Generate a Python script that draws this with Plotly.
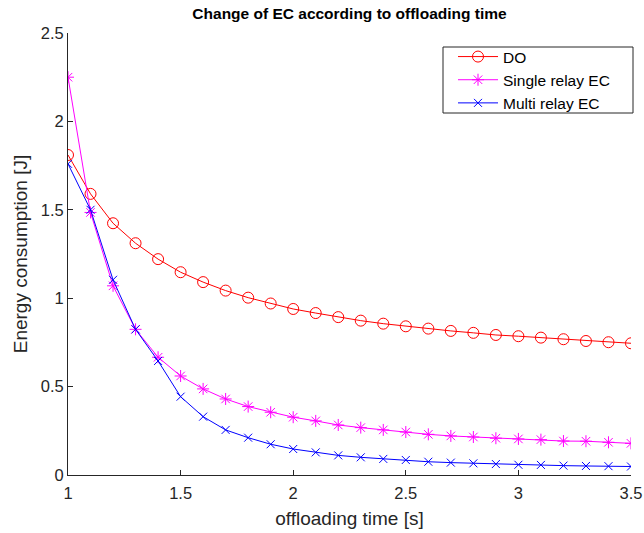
import plotly.graph_objects as go

# offloading time [s]
offload_time = [1.0, 1.1, 1.2, 1.3, 1.4, 1.5, 1.6, 1.7, 1.8, 1.9, 2.0, 2.1, 2.2,
                2.3, 2.4, 2.5, 2.6, 2.7, 2.8, 2.9, 3.0, 3.1, 3.2, 3.3, 3.4, 3.5]

# energy consumption [J]
ec_do = [1.81, 1.59, 1.424, 1.311, 1.221, 1.147, 1.091, 1.043, 1.003, 0.970,
         0.939, 0.916, 0.893, 0.873, 0.856, 0.841, 0.828, 0.815, 0.804, 0.792,
         0.785, 0.777, 0.768, 0.758, 0.751, 0.745]
ec_single = [2.25, 1.485, 1.07, 0.824, 0.666, 0.560, 0.487, 0.430, 0.387, 0.355,
             0.327, 0.306, 0.283, 0.268, 0.255, 0.243, 0.230, 0.221, 0.215, 0.208,
             0.204, 0.200, 0.192, 0.191, 0.185, 0.179]
ec_multi = [1.76, 1.50, 1.104, 0.824, 0.645, 0.443, 0.330, 0.255, 0.211, 0.174,
            0.147, 0.128, 0.111, 0.100, 0.091, 0.085, 0.075, 0.070, 0.066, 0.062,
            0.058, 0.057, 0.053, 0.051, 0.050, 0.048]

x_ticks = [1, 1.5, 2, 2.5, 3, 3.5]
x_tick_labels = ["1", "1.5", "2", "2.5", "3", "3.5"]
y_ticks = [0, 0.5, 1, 1.5, 2, 2.5]
y_tick_labels = ["0", "0.5", "1", "1.5", "2", "2.5"]

FONT = "Liberation Sans, Arial, Helvetica, sans-serif"
AXIS_COLOR = "#262626"

# plot-area geometry in pixels, used to place the legend frame
W, H = 644, 533
ML, MR, MT, MB = 68, 13, 33, 58
PW, PH = W - ML - MR, H - MT - MB


def px_x(px):
    return (px - ML) / PW


def px_y(py):
    return (H - MB - py) / PH


fig = go.Figure()

fig.add_trace(go.Scatter(
    x=offload_time, y=ec_do, name="DO", mode="lines+markers",
    line=dict(color="#ff0000", width=1),
    marker=dict(symbol="circle-open", size=11, color="#ff0000", line=dict(width=1)),
))
fig.add_trace(go.Scatter(
    x=offload_time, y=ec_single, name="Single relay EC", mode="lines+markers",
    line=dict(color="#ff00ff", width=1),
    marker=dict(symbol="asterisk-open", size=10, color="#ff00ff", line=dict(width=1, color="#ff00ff")),
))
fig.add_trace(go.Scatter(
    x=offload_time, y=ec_multi, name="Multi relay EC", mode="lines+markers",
    line=dict(color="#0000ff", width=1),
    marker=dict(symbol="x-thin-open", size=8, color="#0000ff", line=dict(width=1, color="#0000ff")),
))

# legend frame
fig.add_shape(
    type="rect", xref="paper", yref="paper",
    x0=px_x(443), x1=px_x(633), y0=px_y(113), y1=px_y(47),
    line=dict(color=AXIS_COLOR, width=1), fillcolor="white", layer="above",
)

fig.update_layout(
    width=W, height=H,
    margin=dict(l=ML, r=MR, t=MT, b=MB),
    paper_bgcolor="white", plot_bgcolor="white",
    font=dict(family=FONT, color=AXIS_COLOR, size=14),
    title=dict(
        text="<b>Change of EC according to offloading time</b>",
        x=0.5, xref="paper", xanchor="center",
        y=1 - 14 / H, yref="container", yanchor="middle",
        font=dict(family=FONT, size=15.5, color="black"),
    ),
    showlegend=True,
    legend=dict(
        x=px_x(453), y=px_y(40), xanchor="left", yanchor="top",
        bgcolor="rgba(0,0,0,0)", borderwidth=0,
        font=dict(family=FONT, size=15.5, color="black"),
        tracegroupgap=0, itemwidth=40,
    ),
)

fig.update_xaxes(
    range=[1, 3.5], tickmode="array", tickvals=x_ticks, ticktext=x_tick_labels,
    showgrid=False, zeroline=False, showline=True, linecolor=AXIS_COLOR, linewidth=1,
    ticks="inside", ticklen=5, tickcolor=AXIS_COLOR, ticklabelstandoff=3,
    tickfont=dict(family=FONT, size=16.5, color=AXIS_COLOR), automargin=False,
    title=dict(text="offloading time [s]", font=dict(family=FONT, size=19, color=AXIS_COLOR), standoff=10),
)
fig.update_yaxes(
    range=[0, 2.5], tickmode="array", tickvals=y_ticks, ticktext=y_tick_labels,
    showgrid=False, zeroline=False, showline=True, linecolor=AXIS_COLOR, linewidth=1,
    ticks="inside", ticklen=5, tickcolor=AXIS_COLOR, automargin=False,
    tickfont=dict(family=FONT, size=16.5, color=AXIS_COLOR),
    title=dict(text="Energy consumption [J]", font=dict(family=FONT, size=19, color=AXIS_COLOR), standoff=8),
)

fig.write_html("out.html")
